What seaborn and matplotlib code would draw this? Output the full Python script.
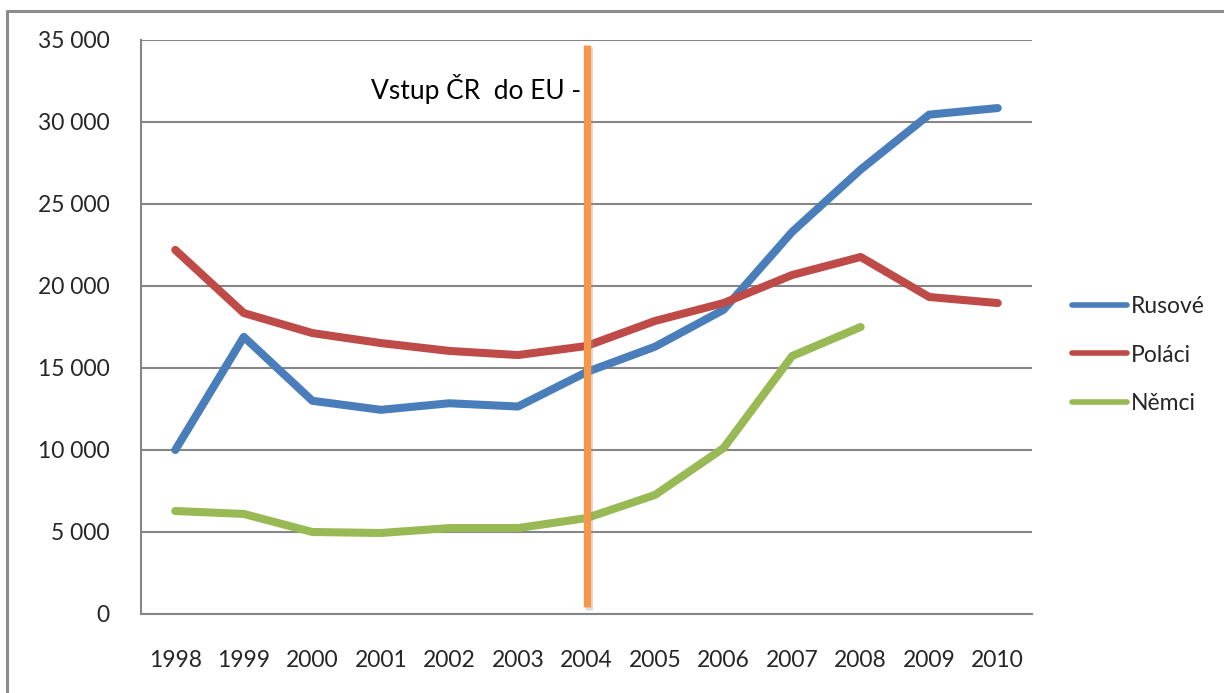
import numpy as np
import pandas as pd
import matplotlib
matplotlib.use("Agg")
import matplotlib.pyplot as plt
import seaborn as sns
from matplotlib.lines import Line2D
import matplotlib.patheffects as pe

# ---- data ----
years = ["1998", "1999", "2000", "2001", "2002", "2003", "2004",
         "2005", "2006", "2007", "2008", "2009", "2010"]
rusove = [10000, 16900, 13000, 12450, 12850, 12650, 14750,
          16300, 18550, 23300, 27100, 30450, 30850]
polaci = [22200, 18350, 17130, 16520, 16040, 15790, 16340,
          17870, 18960, 20670, 21770, 19330, 18960]
nemci = [6280, 6100, 5000, 4940, 5240, 5240, 5850,
         7260, 10120, 15730, 17500, np.nan, np.nan]
series_names = ["Rusové", "Poláci", "Němci"]
series_colors = ["#4A7EBB", "#BE4B48", "#98B954"]
y_ticks = [0, 5000, 10000, 15000, 20000, 25000, 30000, 35000]
eu_year = "2004"
eu_span = [400, 34700]
eu_label = "Vstup ČR  do EU -"
eu_label_value = 32000

# ---- long-form table ----
pos = {y: i for i, y in enumerate(years)}
frames = []
for name, vals in zip(series_names, [rusove, polaci, nemci]):
    frames.append(pd.DataFrame({"x": [pos[y] for y in years], "value": vals, "series": name}))
df = pd.concat(frames, ignore_index=True).dropna()

sns.set_theme(style="white")
plt.rcParams["font.family"] = ["Lato", "DejaVu Sans"]
FS = 16.5

fig = plt.figure(figsize=(12.24, 6.93), dpi=100)
ax = fig.add_axes([141 / 1224, 1 - 614 / 693, (1032 - 141) / 1224, (614 - 40) / 693])

sns.lineplot(data=df, x="x", y="value", hue="series", hue_order=series_names,
             palette=dict(zip(series_names, series_colors)), estimator=None,
             sort=False, linewidth=5.8, ax=ax, legend=True)
for ln in ax.lines:
    ln.set_solid_capstyle("round")
    ln.set_solid_joinstyle("round")
ax.get_legend().remove()

# EU entry line
xe = pos[eu_year]
ax.plot([xe, xe], eu_span, color="#F79646", linewidth=5.2, solid_capstyle="butt", zorder=5,
        path_effects=[pe.SimpleLineShadow(offset=(1.5, -1.5), shadow_color="#999999", alpha=0.35),
                      pe.Normal()])
ax.annotate(eu_label, xy=(xe, eu_label_value), xytext=(-5, 0), textcoords="offset pixels",
            ha="right", va="center", fontsize=19, color="black", zorder=6)

# axes styling
ax.set_xlim(-0.5, len(years) - 0.5)
ax.set_ylim(0, 35000)
ax.set_yticks(y_ticks)
ax.set_yticklabels([f"{v:,}".replace(",", " ") for v in y_ticks], fontsize=FS)
ax.set_xticks(range(len(years)))
ax.set_xticklabels(years, fontsize=FS)
ax.set_xticks(np.arange(-0.5, len(years)), minor=True)
ax.tick_params(axis="x", which="major", length=0, pad=26)
ax.tick_params(axis="x", which="minor", length=8 * 0.72, width=1.5, color="#868686", direction="out")
ax.tick_params(axis="y", which="major", length=8 * 0.72, width=1.5, color="#868686", direction="out", pad=17)
ax.set_xlabel("")
ax.set_ylabel("")
ax.grid(axis="y", color="#868686", linewidth=1.5)
ax.grid(axis="x", visible=False)
ax.set_axisbelow(True)
for s in ["top", "right"]:
    ax.spines[s].set_visible(False)
for s in ["left", "bottom"]:
    ax.spines[s].set_color("#868686")
    ax.spines[s].set_linewidth(1.5)

# legend
leg_handles = [Line2D([0], [0], color=c, linewidth=4, solid_capstyle="round") for c in series_colors]
fig.legend(leg_handles, series_names, loc="center left", bbox_to_anchor=(1072 / 1224, 1 - 355 / 693),
           frameon=False, fontsize=FS, handlelength=2.4, handletextpad=0.15,
           labelspacing=1.22, borderpad=0, borderaxespad=0)

# outer frame (top and left edges visible)
fig.add_artist(Line2D([7 / 1224, 7 / 1224, 1], [0, 1 - 11 / 693, 1 - 11 / 693],
                      transform=fig.transFigure, color="#8C8C8C", linewidth=2.2))

fig.savefig("out.png", dpi=100)
